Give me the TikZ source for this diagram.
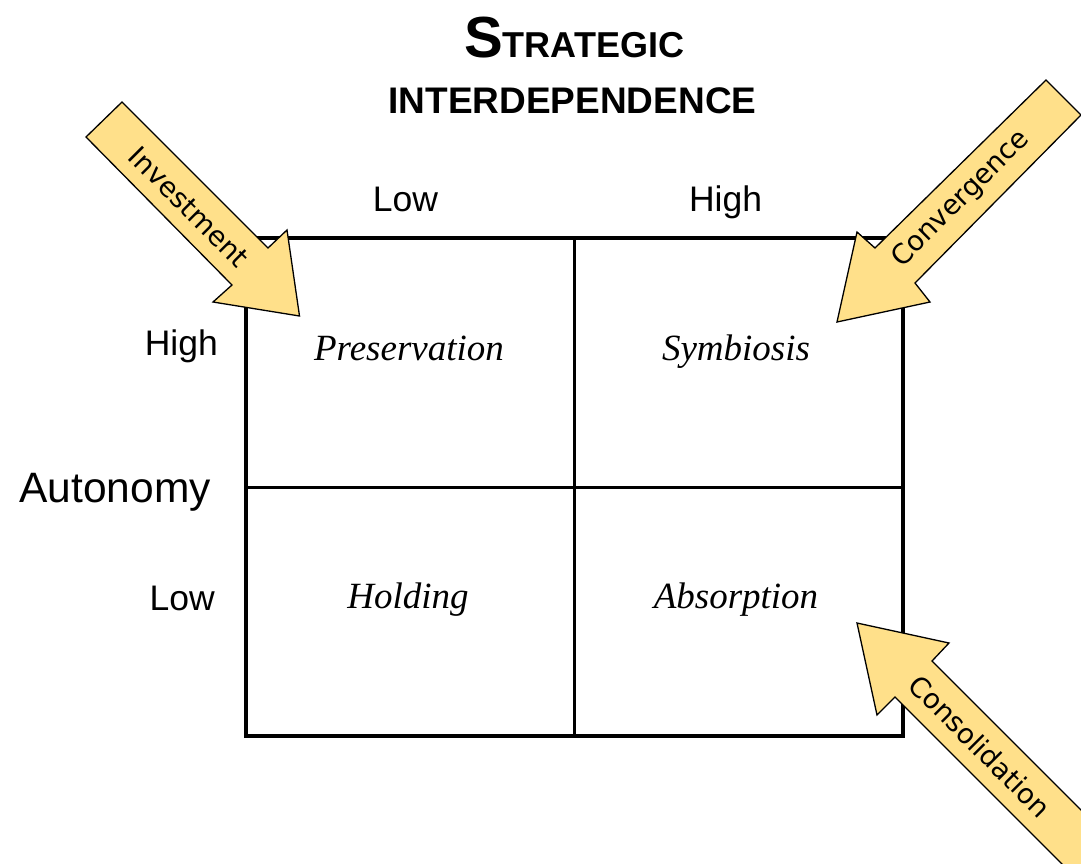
\documentclass[tikz,border=0pt]{standalone}
\usepackage{graphicx}
\usepackage{fontspec}
\setmainfont{Liberation Sans}
\newfontfamily\serifit{Liberation Serif}
\newfontfamily\arrowfont{DejaVu Sans}
\definecolor{arrowfill}{RGB}{255,224,138}
\begin{document}
\begin{tikzpicture}[x=1pt,y=-1pt,
  axislabel/.style={font=\fontsize{35.5}{40}\selectfont, inner sep=0pt, anchor=base},
  quadlabel/.style={font=\serifit\itshape\fontsize{37}{40}\selectfont, inner sep=0pt, anchor=base},
  bigarrow/.style={fill=arrowfill, draw=black, line width=1.3pt, line join=miter},
  arrowtext/.style={font=\arrowfont\fontsize{27.5}{30}\selectfont, inner sep=0pt},
  outerframe/.style={draw=black, line width=4.5pt},
  innerline/.style={draw=black, line width=3pt}]
\clip (0,0) rectangle (1081,863);
\fill[white] (0,0) rectangle (1081,863);

% title
\node[anchor=base, inner sep=0pt] (title1) at (574,57)
  {\bfseries\fontsize{58}{60}\selectfont S{\fontsize{36}{40}\selectfont TRATEGIC}};
\node[anchor=base, inner sep=0pt, font=\bfseries\fontsize{37}{40}\selectfont] (title2) at (572.5,113) {INTERDEPENDENCE};

% grid
\coordinate (tl) at (246,238);
\coordinate (br) at (903,736);
\coordinate (mt) at (574,238);
\coordinate (mb) at (574,736);
\coordinate (ml) at (246,487);
\coordinate (mr) at (903,487);
\draw[innerline] (mt) -- (mb);
\draw[innerline] (ml) -- (mr);
\draw[outerframe] (tl) rectangle (br);

% axis labels
\node[axislabel] (lowtop) at (405.5,211) {Low};
\node[axislabel] (hightop) at (725.5,211) {High};
\node[axislabel, anchor=base east] (highleft) at (218,355) {High};
\node[axislabel, anchor=base east] (lowleft) at (215,610) {Low};
\node[axislabel, font=\fontsize{42.5}{46}\selectfont] (autonomy) at (115,502) {Autonomy};

% quadrant labels
\node[quadlabel] (pres) at (409,360) {Preservation};
\node[quadlabel] (symb) at (736,360) {Symbiosis};
\node[quadlabel] (hold) at (408,608) {Holding};
\node[quadlabel] (abso) at (736,608) {Absorption};

% arrows
\draw[bigarrow] (122,102) -- (268,248) -- (287,230) -- (299.5,316) -- (213,302) -- (232,285) -- (86,137) -- cycle;
\node[arrowtext, rotate=-45] (invest) at (189,207) {Investment};

\draw[bigarrow] (1046,80) -- (875,248) -- (857,232) -- (837,322) -- (930,302) -- (915,283) -- (1081,115) -- cycle;
\node[arrowtext, rotate=45] (conv) at (961,199) {Convergence};

\draw[bigarrow] (857,623) -- (949,643) -- (932,661) -- (1132,861) -- (1095,897) -- (895,697) -- (877,715) -- cycle;
\node[arrowtext, rotate=-45] (cons) at (980,746) {Consolidation};
\end{tikzpicture}
\end{document}
